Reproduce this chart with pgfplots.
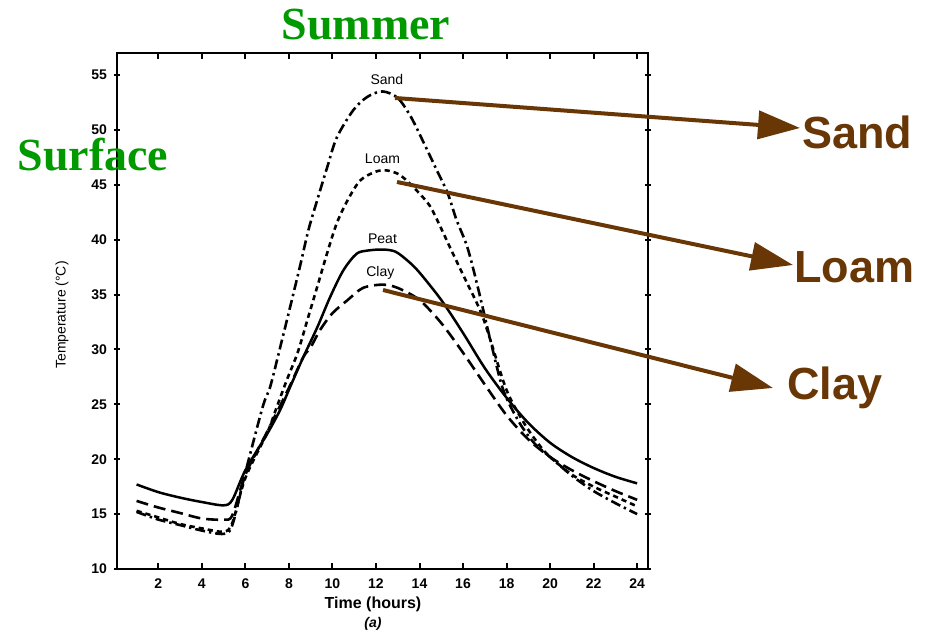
\documentclass[border=0pt]{standalone}
\usepackage{fontspec}
\setmainfont{Liberation Sans}
\newfontfamily\serifb{Liberation Serif}
\usepackage{pgfplots}
\pgfplotsset{compat=1.18}
\usetikzlibrary{arrows.meta}
\definecolor{sgreen}{RGB}{0,153,0}
\definecolor{brownc}{RGB}{105,55,5}

\pgfplotstableread{
x y
1 17.7
2 17.0
3 16.5
4 16.1
5 15.8
5.4 16.3
6 19.0
7 22.3
7.6 24.5
8.06 26.6
8.66 29.3
9.3 32.0
9.9 34.8
10.5 37.2
11.1 38.7
11.6 39.0
12.3 39.1
12.9 38.9
13.5 38.0
14 37.0
15 34.5
16 31.5
17 28.3
18 25.6
19 23.3
20 21.5
21 20.2
22 19.2
23 18.4
24 17.8
}\peat

\pgfplotstableread{
x y
1 16.2
2 15.6
3 15.1
4 14.6
5 14.5
5.4 14.9
6 18.6
7 22.5
8 26.5
8.66 29.3
9 30.2
9.44 31.8
10 33.3
10.7 34.5
11.4 35.6
12.3 35.9
13 35.6
14 34.5
15 32.4
16 29.7
17 26.8
18 24.0
19 21.8
20 20.2
21 19.0
22 18.0
23 17.1
24 16.3
}\clay

\pgfplotstableread{
x y
1 15.2
2 14.5
3 14.0
4 13.5
5 13.2
5.4 14.0
6 18.8
6.8 24.8
7.14 26.6
7.6 30.2
8.06 33.9
8.5 37.5
8.9 40.9
9.3 43.6
9.76 46.6
10.2 49.3
10.96 51.8
11.6 53.0
12.3 53.5
13 52.9
13.6 51.2
14.2 48.8
14.8 46.3
15.3 44.2
15.7 41.8
16.2 39.3
16.7 35.5
17.25 30.9
17.85 26.3
18.6 23.3
19.3 21.4
20 20.2
21 18.5
22 17.1
23 16.0
24 15.0
}\sand

\pgfplotstableread{
x y
1 15.3
2 14.7
3 14.1
4 13.7
5 13.4
5.4 14.2
6 18.3
7 22.4
7.45 24.8
7.9 27.2
8.4 29.7
8.85 32.7
9.3 35.7
9.76 38.8
10.2 41.5
10.7 43.6
11.28 45.4
12 46.2
12.5 46.3
13 46.0
13.4 45.4
14 44.2
14.5 43.0
15 41.0
15.4 39.3
16 36.8
16.8 33.5
17.25 30.9
18 26.3
18.8 23.3
19.5 21.3
20 20.2
21 18.6
22 17.5
23 16.6
24 15.7
}\loam

\begin{document}
\begin{tikzpicture}
\path[use as bounding box] (0,0) rectangle (470pt,317.5pt);
\begin{axis}[
  at={(58.5pt,33pt)}, anchor=south west,
  scale only axis, width=265.5pt, height=258pt,
  xmin=0.1, xmax=24.5, ymin=10, ymax=57,
  xtick={2,4,...,24}, ytick={10,15,...,55},
  tick pos=both, ticklabel pos=left,
  xtick align=inside, ytick align=center,
  major tick length=3pt,
  axis line style={line width=1.2pt},
  every tick/.style={black, line width=1pt},
  /pgf/number format/assume math mode=true,
  ticklabel style={font=\bfseries\fontsize{7}{8}\selectfont},
  xticklabel style={yshift=-1.5pt},
  clip=false,
]
\addplot[black, line width=1.25pt, smooth] table {\peat};
\addplot[black, line width=1.3pt, smooth, dash pattern=on 6pt off 3pt] table {\clay};
\addplot[black, line width=1.3pt, smooth, dash pattern=on 2.6pt off 2pt] table {\loam};
\addplot[black, line width=1.3pt, smooth, dash pattern=on 5pt off 2pt on 1.2pt off 2pt] table {\sand};
\node[font=\fontsize{7}{8}\selectfont] at (axis cs:12.5,54.6) {Sand};
\node[font=\fontsize{7}{8}\selectfont] at (axis cs:12.3,47.4) {Loam};
\node[font=\fontsize{7}{8}\selectfont] at (axis cs:12.3,40.1) {Peat};
\node[font=\fontsize{7}{8}\selectfont] at (axis cs:12.2,37.0) {Clay};
\end{axis}
% axis titles
\node[rotate=90, font=\fontsize{7}{8}\selectfont] at (31pt,160pt) {Temperature (°C)};
\node[font=\bfseries\fontsize{8}{9}\selectfont] at (186.5pt,15.5pt) {Time (hours)};
\node[font=\bfseries\itshape\fontsize{7}{8}\selectfont] at (186.5pt,5.5pt) {(a)};
% green headings
\node[anchor=base, inner sep=0, text=sgreen, font=\serifb\bfseries\fontsize{23}{28}\selectfont] at (183pt,297.5pt) {Summer};
\node[anchor=base, inner sep=0, text height=16pt, text depth=0pt, text=sgreen, font=\serifb\bfseries\fontsize{23}{28}\selectfont] at (46.5pt,232pt) {Surface};
% brown arrows
\draw[brownc, line width=2pt, -{Triangle[length=21pt,width=14pt]}] (197.5pt,268.5pt) -- (400pt,253.5pt);
\draw[brownc, line width=2pt, -{Triangle[length=21pt,width=14pt]}] (198.5pt,226.5pt) -- (396.5pt,185pt);
\draw[brownc, line width=2pt, -{Triangle[length=21pt,width=14pt]}] (191.5pt,172.5pt) -- (386.5pt,123.5pt);
\node[anchor=west, inner sep=0, text=brownc, font=\bfseries\fontsize{22.5}{26}\selectfont] at (401pt,251.5pt) {Sand};
\node[anchor=west, inner sep=0, text=brownc, font=\bfseries\fontsize{22.5}{26}\selectfont] at (397pt,184pt) {Loam};
\node[anchor=west, inner sep=0, text=brownc, font=\bfseries\fontsize{22.5}{26}\selectfont] at (393.5pt,123.5pt) {Clay};
\end{tikzpicture}
\end{document}
